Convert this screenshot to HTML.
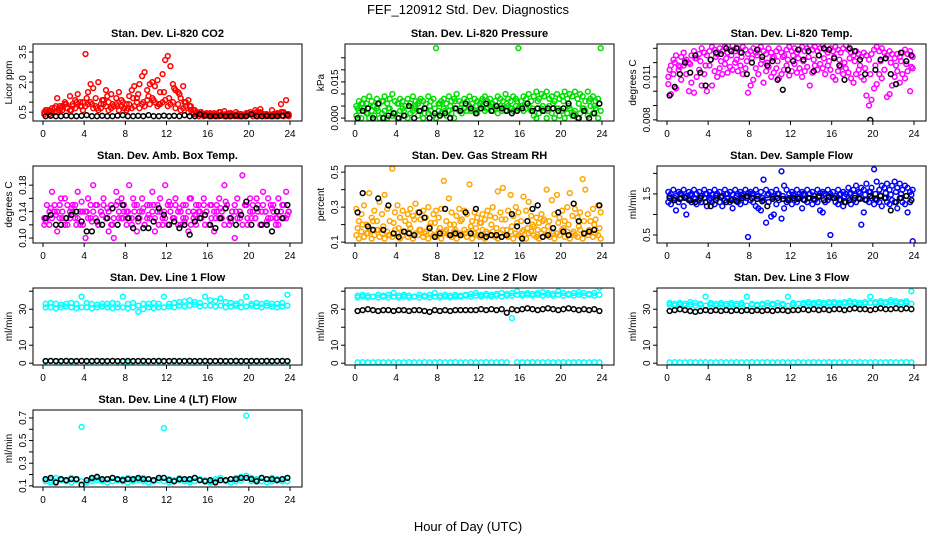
<!DOCTYPE html>
<html><head><meta charset="utf-8"><style>
body{margin:0;background:#fff}
svg text{font-family:"Liberation Sans",Arial,sans-serif}
</style></head><body>
<svg id="c" width="936" height="540" viewBox="0 0 936 540" xmlns="http://www.w3.org/2000/svg">
<text x="468" y="14" text-anchor="middle" font-size="13">FEF_120912  Std. Dev. Diagnostics</text>
<text x="468" y="531" text-anchor="middle" font-size="13">Hour of Day (UTC)</text>
</svg>
<script>
// ---- data ----
const co2A=[0.5,0.6,0.4,0.7,0.5,1.2,0.6,0.8,1.0,0.7,1.3,0.9,1.1,1.4,0.8,1.0,3.4,1.5,1.9,1.7,1.2,2.0,0.9,1.1,1.6,1.0,1.4,0.8,1.2,1.5,1.1,0.7,0.9,1.3,1.6,1.8,1.2,1.9,2.3,2.5,1.6,1.9,2.0,1.8,2.1,1.5,2.4,3.1,3.3,2.8,1.9,1.6,1.5,1.2,1.8,1.0,1.1,0.8,0.6,0.5,0.4,0.5,0.4,0.45,0.4,0.35,0.45,0.4,0.5,0.4,0.55,0.4,0.45,0.4,0.35,0.4,0.4,0.35,0.4,0.45,0.5,0.4,0.6,0.4,0.65,0.4,0.4,0.35,0.35,0.4,0.4,0.4,0.9,0.5,1.1,0.4];
const co2B=[0.4,0.5,0.6,0.5,0.7,0.5,0.8,0.6,0.9,0.7,0.6,0.8,0.7,0.9,1.0,0.6,0.8,0.9,1.0,0.7,0.8,0.6,0.7,0.9,0.8,0.6,0.7,0.8,0.9,0.6,0.8,0.7,0.6,0.9,0.7,0.8,1.0,0.7,0.9,0.8,1.1,0.9,1.2,1.0,0.8,0.9,1.0,1.1,0.8,0.9,1.0,0.7,0.9,0.6,0.7,0.8,0.5,0.6,0.4,0.4,0.3,0.4,0.3,0.35,0.3,0.3,0.35,0.3,0.3,0.35,0.3,0.3,0.3,0.35,0.3,0.3,0.3,0.3,0.3,0.35,0.4,0.3,0.45,0.3,0.5,0.3,0.3,0.3,0.3,0.3,0.35,0.3,0.5,0.3,0.4,0.3];
const co2C=[0.6,0.5,0.8,0.7,0.9,0.6,1.0,0.8,1.2,0.9,0.7,1.1,1.3,0.9,0.8,1.0,0.7,1.2,1.4,1.0,1.3,1.1,0.9,1.5,1.2,1.7,1.4,1.0,0.8,0.6,0.5,0.4,0.45,0.4,0.5,0.4,0.45,0.5,0.4,0.45,0.4,0.5,0.45,0.4,0.6,0.45,0.5,0.4];
const co2K=[0.3,0.32,0.3,0.3,0.33,0.3,0.3,0.32,0.35,0.3,0.3,0.32,0.3,0.3,0.33,0.35,0.3,0.3,0.32,0.3,0.35,0.3,0.3,0.33,0.3,0.32,0.3,0.35,0.3,0.3,0.4,0.33,0.3,0.3,0.32,0.3,0.3,0.33,0.3,0.3,0.4,0.3,0.3,0.32,0.3,0.3,0.33,0.35];
const prsA=[0.005,0.007,0.006,0.008,0.006,0.009,0.007,0.005,0.008,0.006,0.007,0.009,0.006,0.008,0.010,0.007,0.006,0.008,0.007,0.005,0.008,0.006,0.009,0.007,0.006,0.008,0.007,0.006,0.009,0.007,0.008,0.029,0.006,0.007,0.008,0.006,0.009,0.007,0.008,0.010,0.007,0.006,0.008,0.007,0.009,0.006,0.008,0.007,0.006,0.008,0.009,0.007,0.008,0.006,0.007,0.009,0.008,0.007,0.010,0.008,0.007,0.009,0.008,0.029,0.007,0.009,0.008,0.010,0.007,0.009,0.011,0.008,0.010,0.009,0.011,0.008,0.009,0.007,0.010,0.008,0.009,0.011,0.008,0.010,0.009,0.011,0.008,0.010,0.009,0.007,0.011,0.008,0.009,0.007,0.008,0.029];
const prsB=[0.001,0.003,0.000,0.004,0.002,0.000,0.003,0.001,0.004,0.000,0.002,0.003,0.000,0.004,0.001,0.002,0.000,0.003,0.004,0.001,0.000,0.002,0.003,0.005,0.001,0.003,0.000,0.004,0.002,0.003,0.001,0.000,0.003,0.002,0.004,0.001,0.003,0.002,0.000,0.004,0.003,0.002,0.004,0.003,0.005,0.004,0.003,0.002,0.004,0.005,0.003,0.004,0.005,0.003,0.004,0.002,0.005,0.004,0.003,0.005,0.004,0.003,0.005,0.004,0.005,0.003,0.004,0.005,0.003,0.001,0.000,0.002,0.004,0.003,0.000,0.005,0.002,0.000,0.004,0.001,0.003,0.000,0.002,0.004,0.001,0.003,0.000,0.002,0.004,0.003,0.001,0.005,0.002,0.004,0.000,0.003];
const prsC=[0.004,0.006,0.002,0.005,0.003,0.007,0.004,0.002,0.006,0.003,0.005,0.004,0.007,0.002,0.005,0.004,0.006,0.003,0.005,0.007,0.004,0.006,0.003,0.005,0.007,0.004,0.006,0.005,0.003,0.006,0.004,0.007,0.005,0.006,0.004,0.007,0.005,0.003,0.006,0.004,0.007,0.005,0.002,0.006,0.004,0.007,0.005,0.006];
const prsK=[0.000,0.003,0.004,0.000,0.006,0.000,0.001,0.002,0.000,0.001,0.005,0.000,0.003,0.004,0.000,0.002,0.001,0.002,0.000,0.004,0.003,0.006,0.004,0.002,0.004,0.006,0.003,0.005,0.004,0.003,0.002,0.003,0.004,0.006,0.003,0.004,0.003,0.004,0.004,0.003,0.004,0.006,0.001,0.000,0.003,0.000,0.002,0.006];
const tmpA=[0.0110,0.0118,0.0122,0.0125,0.0118,0.0124,0.0127,0.0122,0.0120,0.0125,0.0128,0.0123,0.0126,0.0130,0.0127,0.0125,0.0128,0.0131,0.0129,0.0126,0.0130,0.0128,0.0131,0.0127,0.0129,0.0132,0.0128,0.0130,0.0127,0.0131,0.0129,0.0126,0.0128,0.0130,0.0127,0.0129,0.0131,0.0128,0.0126,0.0130,0.0127,0.0124,0.0128,0.0130,0.0127,0.0125,0.0129,0.0131,0.0128,0.0130,0.0127,0.0129,0.0131,0.0128,0.0130,0.0132,0.0129,0.0131,0.0128,0.0130,0.0132,0.0129,0.0127,0.0130,0.0128,0.0131,0.0129,0.0127,0.0130,0.0132,0.0129,0.0127,0.0125,0.0128,0.0126,0.0124,0.0127,0.0125,0.0122,0.0126,0.0129,0.0131,0.0128,0.0130,0.0127,0.0125,0.0128,0.0126,0.0123,0.0126,0.0124,0.0127,0.0129,0.0126,0.0128,0.0124];
const tmpB=[0.0105,0.0098,0.0112,0.0102,0.0115,0.0108,0.0118,0.0112,0.0100,0.0106,0.0099,0.0110,0.0115,0.0104,0.0112,0.0100,0.0118,0.0104,0.0114,0.0110,0.0116,0.0112,0.0119,0.0113,0.0117,0.0115,0.0120,0.0114,0.0118,0.0112,0.0116,0.0099,0.0104,0.0108,0.0116,0.0112,0.0119,0.0106,0.0114,0.0117,0.0110,0.0113,0.0116,0.0109,0.0112,0.0115,0.0118,0.0111,0.0114,0.0119,0.0113,0.0116,0.0110,0.0114,0.0117,0.0104,0.0113,0.0118,0.0115,0.0119,0.0116,0.0112,0.0118,0.0115,0.0110,0.0108,0.0114,0.0117,0.0112,0.0116,0.0113,0.0109,0.0106,0.0112,0.0115,0.0110,0.0108,0.0097,0.0090,0.0094,0.0102,0.0105,0.0112,0.0109,0.0115,0.0096,0.0098,0.0104,0.0110,0.0114,0.0106,0.0112,0.0109,0.0114,0.0100,0.0116];
const tmpC=[0.0115,0.0120,0.0117,0.0121,0.0119,0.0123,0.0121,0.0118,0.0122,0.0124,0.0121,0.0123,0.0125,0.0122,0.0124,0.0121,0.0123,0.0125,0.0122,0.0120,0.0123,0.0121,0.0124,0.0122,0.0125,0.0123,0.0121,0.0124,0.0122,0.0125,0.0123,0.0121,0.0124,0.0122,0.0120,0.0123,0.0121,0.0118,0.0116,0.0112,0.0118,0.0121,0.0123,0.0120,0.0118,0.0121,0.0119,0.0117];
const tmpK=[0.0097,0.0103,0.0112,0.0120,0.0113,0.0125,0.0113,0.0104,0.0122,0.0127,0.0126,0.0130,0.0128,0.0130,0.0127,0.0112,0.0120,0.0129,0.0124,0.0118,0.0121,0.0108,0.0101,0.0115,0.0121,0.0129,0.0122,0.0128,0.0114,0.0125,0.0130,0.0129,0.0123,0.0118,0.0108,0.0130,0.0128,0.0122,0.0112,0.0080,0.0115,0.0122,0.0123,0.0112,0.0105,0.0127,0.0121,0.0125];
const ambA=[0.13,0.15,0.12,0.17,0.14,0.11,0.15,0.13,0.16,0.12,0.14,0.15,0.13,0.17,0.12,0.14,0.10,0.16,0.13,0.18,0.15,0.12,0.14,0.16,0.13,0.11,0.15,0.10,0.17,0.13,0.16,0.14,0.12,0.18,0.13,0.15,0.11,0.14,0.16,0.12,0.15,0.13,0.17,0.11,0.14,0.16,0.13,0.18,0.12,0.15,0.13,0.16,0.14,0.12,0.15,0.13,0.11,0.16,0.14,0.12,0.15,0.13,0.16,0.14,0.12,0.15,0.11,0.14,0.16,0.13,0.18,0.15,0.12,0.14,0.10,0.16,0.13,0.195,0.15,0.12,0.16,0.14,0.13,0.15,0.12,0.17,0.14,0.16,0.13,0.15,0.12,0.16,0.14,0.13,0.17,0.14];
const ambB=[0.12,0.13,0.14,0.13,0.15,0.14,0.13,0.14,0.12,0.15,0.13,0.14,0.15,0.13,0.14,0.12,0.14,0.13,0.15,0.14,0.13,0.12,0.14,0.15,0.13,0.14,0.12,0.13,0.15,0.14,0.13,0.15,0.14,0.13,0.12,0.14,0.15,0.13,0.14,0.12,0.13,0.15,0.14,0.13,0.15,0.14,0.12,0.13,0.15,0.14,0.13,0.15,0.12,0.14,0.13,0.15,0.14,0.12,0.13,0.15,0.14,0.13,0.15,0.14,0.12,0.13,0.14,0.15,0.13,0.14,0.12,0.15,0.13,0.14,0.15,0.13,0.14,0.12,0.15,0.13,0.14,0.15,0.13,0.14,0.12,0.15,0.14,0.13,0.15,0.14,0.13,0.12,0.14,0.15,0.13,0.14];
const ambC=[0.125,0.145,0.135,0.16,0.13,0.145,0.12,0.155,0.14,0.125,0.15,0.135,0.145,0.12,0.155,0.13,0.14,0.16,0.125,0.145,0.135,0.15,0.12,0.14,0.155,0.13,0.145,0.125,0.16,0.135,0.14,0.12,0.15,0.13,0.145,0.155,0.125,0.14,0.135,0.15,0.13,0.16,0.14,0.125,0.145,0.13,0.15,0.135];
const ambK=[0.13,0.135,0.12,0.12,0.13,0.135,0.14,0.125,0.11,0.11,0.125,0.12,0.13,0.145,0.12,0.15,0.13,0.115,0.13,0.115,0.115,0.125,0.145,0.135,0.12,0.125,0.115,0.12,0.105,0.125,0.13,0.135,0.12,0.115,0.13,0.145,0.13,0.12,0.135,0.155,0.12,0.145,0.12,0.12,0.11,0.14,0.13,0.15];
const rhA=[0.14,0.12,0.16,0.13,0.15,0.18,0.12,0.14,0.17,0.13,0.15,0.12,0.16,0.14,0.13,0.17,0.15,0.12,0.14,0.16,0.13,0.18,0.12,0.15,0.14,0.17,0.13,0.16,0.12,0.15,0.14,0.13,0.16,0.12,0.15,0.17,0.14,0.13,0.16,0.12,0.15,0.14,0.17,0.13,0.16,0.12,0.15,0.14,0.13,0.17,0.12,0.15,0.14,0.16,0.13,0.12,0.15,0.17,0.14,0.13,0.16,0.12,0.15,0.14,0.13,0.17,0.12,0.15,0.16,0.14,0.13,0.12,0.15,0.17,0.14,0.13,0.16,0.12,0.15,0.14,0.17,0.13,0.16,0.12,0.15,0.14,0.13,0.17,0.12,0.15,0.14,0.16,0.13,0.15,0.14,0.12];
const rhB=[0.29,0.22,0.26,0.31,0.20,0.38,0.24,0.28,0.22,0.33,0.26,0.37,0.29,0.22,0.52,0.27,0.31,0.24,0.28,0.22,0.26,0.29,0.25,0.32,0.27,0.23,0.28,0.24,0.30,0.21,0.26,0.28,0.24,0.29,0.45,0.22,0.35,0.27,0.20,0.25,0.29,0.23,0.28,0.26,0.43,0.22,0.27,0.24,0.21,0.26,0.23,0.28,0.25,0.30,0.24,0.39,0.27,0.41,0.23,0.28,0.37,0.25,0.30,0.27,0.22,0.36,0.28,0.33,0.25,0.19,0.24,0.21,0.26,0.23,0.40,0.22,0.34,0.26,0.37,0.24,0.28,0.22,0.30,0.38,0.25,0.29,0.24,0.27,0.46,0.40,0.26,0.22,0.29,0.23,0.31,0.27];
const rhC=[0.18,0.2,0.15,0.22,0.17,0.19,0.14,0.21,0.18,0.16,0.2,0.23,0.17,0.15,0.19,0.21,0.18,0.16,0.2,0.17,0.22,0.15,0.19,0.18,0.21,0.16,0.2,0.18,0.23,0.17,0.19,0.21,0.16,0.18,0.2,0.17,0.22,0.19,0.15,0.21,0.18,0.2,0.16,0.19,0.22,0.17,0.2,0.18];
const rhK=[0.27,0.38,0.19,0.17,0.35,0.17,0.31,0.15,0.13,0.16,0.15,0.14,0.27,0.24,0.18,0.13,0.15,0.29,0.14,0.15,0.14,0.27,0.15,0.29,0.14,0.13,0.14,0.14,0.13,0.14,0.26,0.19,0.12,0.22,0.29,0.31,0.13,0.14,0.18,0.27,0.16,0.14,0.32,0.22,0.15,0.16,0.17,0.31];
const sfA=[1.55,1.5,1.6,1.45,1.55,1.5,1.6,1.45,1.55,1.5,1.6,1.5,1.55,1.45,1.6,1.5,1.55,1.48,1.6,1.5,1.55,1.45,1.6,1.5,1.55,1.48,1.6,1.5,1.55,1.45,1.6,1.52,1.55,1.5,1.6,1.45,1.55,1.85,1.6,1.5,1.55,1.45,1.6,1.5,2.05,1.7,1.6,1.5,1.55,1.45,1.6,1.5,1.55,1.48,1.6,1.5,1.55,1.45,1.6,1.52,1.55,1.5,1.6,1.5,1.55,1.45,1.6,1.5,1.55,1.5,1.65,1.52,1.6,1.7,1.55,1.65,1.6,1.75,1.55,1.65,2.1,1.8,1.6,1.7,1.65,1.75,1.6,1.7,1.8,1.65,1.75,1.6,1.7,1.65,1.55,1.6];
const sfB=[1.3,1.25,1.35,1.1,1.3,1.4,1.2,1.0,1.35,1.3,1.4,1.25,1.35,1.3,1.4,1.2,1.35,1.3,1.25,1.4,1.3,1.2,1.35,1.4,1.3,1.15,1.35,1.3,1.25,1.4,1.3,0.45,1.35,1.3,1.2,1.15,1.1,1.35,0.8,1.3,0.95,1.0,1.25,1.35,0.9,1.15,1.3,1.4,1.25,1.35,1.3,1.4,1.15,1.35,1.3,1.4,1.25,1.35,1.3,1.1,1.05,1.3,1.35,0.5,1.4,1.3,1.25,1.35,1.2,1.3,1.4,1.25,1.35,1.3,1.4,0.75,1.05,1.35,1.3,1.4,1.25,1.35,1.3,1.2,1.4,1.3,1.25,1.35,1.3,1.15,1.4,1.3,1.25,1.05,1.3,0.35];
const sfC=[1.45,1.4,1.5,1.42,1.48,1.38,1.45,1.5,1.4,1.46,1.42,1.5,1.38,1.45,1.48,1.4,1.5,1.44,1.4,1.47,1.42,1.5,1.45,1.38,1.48,1.43,1.5,1.4,1.46,1.42,1.5,1.45,1.4,1.48,1.44,1.5,1.46,1.52,1.48,1.55,1.5,1.46,1.52,1.48,1.55,1.5,1.45,1.48];
const sfK=[1.4,1.35,1.38,1.4,1.35,1.3,1.4,1.3,1.2,1.35,1.42,1.3,1.35,1.32,1.4,1.45,1.4,1.38,1.32,1.2,1.38,1.4,1.38,1.35,1.4,1.38,1.36,1.4,1.38,1.45,1.35,1.42,1.4,1.36,1.3,1.35,1.4,1.38,1.36,1.45,1.38,1.45,1.4,1.1,1.3,1.4,1.45,1.35];
const l1A=[33,33.5,33,32.5,33,33.5,33,37,33.5,33,32.5,33,33,33.5,33,37,33,33.5,32,33,33,33.5,33,37,33,33.5,34,34.5,35,34,33.5,37,35,34.5,36,34,33.5,33,34,37,33,33.5,33,33.5,33,33,33.5,38];
const l1B=[31,31,30.5,31,31.5,31,30.5,31,31,30.5,31,31.5,31,30.5,31,31,30.5,31,28.5,30,31,30.5,31,31,31.5,31,32,31.5,32,32.5,31.5,32,32,31.5,32,31,31.5,32,31,31.5,32,31.5,31,32,31.5,31,31.5,32];
const l1C=[1,1.2,1,1,1.1,1,1,1.2,1,1,1.1,1,1,1.2,1,1,0.6,1,1.1,1,1,1.2,1,1,1.1,1,1,1.2,1,1,1.1,1,1,1.2,1,1,1.1,1,1,1.2,1,1,1.1,1,1,1.2,1,1];
const l1K=[1.2,1.3,1.2,1.2,1.3,1.2,1.2,1.3,1.2,1.2,1.3,1.2,1.2,1.3,1.2,1.2,1.3,1.2,1.2,1.3,1.2,1.2,1.3,1.2,1.2,1.3,1.2,1.2,1.3,1.2,1.2,1.3,1.2,1.2,1.3,1.2,1.2,1.3,1.2,1.2,1.3,1.2,1.2,1.3,1.2,1.2,1.3,1.2];
const l2A=[37.5,38,37.5,37,38,37.5,38,39,37.5,38,37.5,37,38,37.5,38,39,37.5,38,37.5,38,37.5,38,38.5,39,38,38.5,38,38.5,39,38.5,39,40,38.5,39,38.5,39,39.5,39,38.5,40,39,38.5,39,39.5,39,38.5,39,42];
const l2C=[36.5,37,36.5,37,36.5,37,36.5,37,36.5,37,36.5,37,36.5,37,36.5,37,36.5,37,36.5,37,37,37.5,37,37.5,37,37.5,37,37.5,37,37.5,37.5,38,37.5,38,37.5,38,37.5,38,37.5,38,37.5,38,37.5,38,37.5,38,37.5,38];
const l2B=[0.5,0.6,0.5,0.5,0.6,0.5,0.5,0.6,0.5,0.5,0.6,0.5,0.5,0.6,0.5,0.5,0.6,0.5,0.5,0.6,0.5,0.5,0.6,0.5,0.5,0.6,0.5,0.5,0.6,0.5,25,0.6,0.5,0.5,0.6,0.5,0.5,0.6,0.5,0.5,0.6,0.5,0.5,0.6,0.5,0.5,0.6,0.5];
const l2K=[29,29.5,30,29.5,29,29.5,29.5,29,29.5,29.5,29,29.5,29.5,29,28.5,29.5,29,29.5,29,29.5,29.5,29.5,29.5,29.5,30,29.5,30,29.5,30,28,30,29.5,30,30.5,30,29.5,30,30.5,30,29.5,30,30.5,30,29.5,30,29.5,30,29];
const l3A=[33.5,33,33.5,33,34,33.5,33,37,33.5,33,33.5,33,33.5,33,33.5,37,33,32.5,33,33.5,33,33.5,33,37,33.5,33,33.5,34,33.5,34,33.5,34,34,33.5,34,34.5,34,33.5,34,37,34,34.5,34,35,34.5,34,34.5,40];
const l3C=[32.5,32,32.5,32,32.5,32,32.5,32,32.5,32,32.5,32,32.5,32,32.5,32,32.5,32,32.5,32,32.5,32,32.5,32,32.5,33,32.5,33,32.5,33,32.5,33,33,32.5,33,33.5,33,32.5,33,33.5,33,33.5,33,34,33.5,33,33.5,33];
const l3B=[0.5,0.6,0.5,0.5,0.6,0.5,0.5,0.6,0.5,0.5,0.6,0.5,0.5,0.6,0.5,0.5,0.6,0.5,0.5,0.6,0.5,0.5,0.6,0.5,0.5,0.6,0.5,0.5,0.6,0.5,0.5,0.6,0.5,0.5,0.6,0.5,0.5,0.6,0.5,0.5,0.6,0.5,0.5,0.6,0.5,0.5,0.6,0.5];
const l3K=[29,29.5,30,29.5,29,28.5,29,29.5,29,29.5,29,29.5,29,29.5,29,29.5,29,29.5,29,29.5,29,29.5,29.5,29,29.5,29.5,30,29.5,30,29.5,30,29.5,30,30,29.5,30,30.5,30,30,29.5,30,30.5,30,30,30.5,30,30.5,30];
const l4A=[0.16,0.15,0.17,0.16,0.15,0.17,0.16,0.62,0.15,0.16,0.17,0.15,0.16,0.17,0.15,0.16,0.17,0.15,0.16,0.17,0.16,0.15,0.17,0.61,0.16,0.15,0.17,0.16,0.15,0.17,0.16,0.15,0.14,0.16,0.17,0.15,0.16,0.17,0.18,0.72,0.17,0.16,0.17,0.16,0.17,0.16,0.16,0.17];
const l4B=[0.14,0.13,0.14,0.15,0.14,0.13,0.15,0.14,0.13,0.14,0.15,0.14,0.13,0.14,0.15,0.14,0.13,0.14,0.15,0.14,0.13,0.14,0.15,0.14,0.13,0.14,0.15,0.14,0.13,0.14,0.15,0.14,0.13,0.14,0.15,0.14,0.13,0.14,0.15,0.19,0.14,0.15,0.14,0.13,0.14,0.15,0.14,0.14];
const l4K=[0.16,0.17,0.13,0.16,0.15,0.16,0.16,0.11,0.15,0.17,0.18,0.16,0.16,0.17,0.16,0.15,0.16,0.16,0.17,0.16,0.16,0.15,0.17,0.17,0.15,0.14,0.16,0.16,0.16,0.17,0.15,0.14,0.15,0.13,0.15,0.15,0.16,0.16,0.17,0.17,0.16,0.14,0.17,0.16,0.16,0.15,0.16,0.17];
const hourTicks=[0,4,8,12,16,20,24];

const panels=[
 {t:"Stan. Dev. Li-820 CO2",yl:"Licor ppm",c:0,r:0,lo:0.06,hi:3.9,ticks:[0.5,1,1.5,2,2.5,3,3.5],labs:["0.5","","","2.0","","","3.5"],s:[[co2A,"#ff0000"],[co2B,"#ff0000"],[co2C,"#ff0000"],[co2K,"#000"]]},
 {t:"Stan. Dev. Li-820 Pressure",yl:"kPa",c:1,r:0,lo:-0.0012,hi:0.0307,ticks:[0,0.005,0.01,0.015,0.02,0.025],labs:["0.000","","","0.015","",""],s:[[prsA,"#00dd00"],[prsB,"#00dd00"],[prsC,"#00dd00"],[prsK,"#000"]]},
 {t:"Stan. Dev. Li-820 Temp.",yl:"degrees C",c:2,r:0,lo:0.00792,hi:0.0133,ticks:[0.008,0.009,0.010,0.011,0.012,0.013],labs:["0.008","","","0.011","",""],s:[[tmpA,"#ff00ff"],[tmpB,"#ff00ff"],[tmpC,"#ff00ff"],[tmpK,"#000"]]},
 {t:"Stan. Dev. Amb. Box Temp.",yl:"degrees C",c:0,r:1,lo:0.0925,hi:0.209,ticks:[0.10,0.12,0.14,0.16,0.18],labs:["0.10","","0.14","","0.18"],s:[[ambA,"#ff00ff"],[ambB,"#ff00ff"],[ambC,"#ff00ff"],[ambK,"#000"]]},
 {t:"Stan. Dev. Gas Stream RH",yl:"percent",c:1,r:1,lo:0.095,hi:0.535,ticks:[0.1,0.2,0.3,0.4,0.5],labs:["0.1","","0.3","","0.5"],s:[[rhA,"#ffa500"],[rhB,"#ffa500"],[rhC,"#ffa500"],[rhK,"#000"]]},
 {t:"Stan. Dev. Sample Flow",yl:"ml/min",c:2,r:1,lo:0.305,hi:2.18,ticks:[0.5,1,1.5,2],labs:["0.5","","1.5",""],s:[[sfA,"#0000ff"],[sfB,"#0000ff"],[sfC,"#0000ff"],[sfK,"#000"]]},
 {t:"Stan. Dev. Line 1 Flow",yl:"ml/min",c:0,r:2,lo:-1,hi:41.8,ticks:[0,10,20,30,40],labs:["0","10","","30",""],s:[[l1A,"#00ffff"],[l1B,"#00ffff"],[l1C,"#00ffff"],[l1K,"#000"]]},
 {t:"Stan. Dev. Line 2 Flow",yl:"ml/min",c:1,r:2,lo:-1,hi:41.8,ticks:[0,10,20,30,40],labs:["0","10","","30",""],s:[[l2A,"#00ffff"],[l2C,"#00ffff"],[l2B,"#00ffff"],[l2K,"#000"]]},
 {t:"Stan. Dev. Line 3 Flow",yl:"ml/min",c:2,r:2,lo:-1,hi:41.8,ticks:[0,10,20,30,40],labs:["0","10","","30",""],s:[[l3A,"#00ffff"],[l3C,"#00ffff"],[l3B,"#00ffff"],[l3K,"#000"]]},
 {t:"Stan. Dev. Line 4 (LT) Flow",yl:"ml/min",c:0,r:3,lo:0.09,hi:0.77,ticks:[0.1,0.2,0.3,0.4,0.5,0.6,0.7],labs:["0.1","","0.3","","0.5","","0.7"],s:[[l4A,"#00ffff"],[l4B,"#00ffff"],[l4K,"#000"]]}
];
const NS="http://www.w3.org/2000/svg";
const svg=document.getElementById('c');
function mk(tag,at,parent){const e=document.createElementNS(NS,tag);for(const k in at)e.setAttribute(k,at[k]);(parent||svg).appendChild(e);return e;}
const W=269,H=77;
panels.forEach((p,pi)=>{
 const L=33+p.c*312,T=44+p.r*122,B=T+H;
 const g=mk('g',{});
 
 
 const xs=h=>L+10+h*247/24;
 const ys=v=>B-(v-p.lo)/(p.hi-p.lo)*H;
 const tt=mk('text',{x:L+W/2,y:T-7,'text-anchor':'middle','font-size':'11','font-weight':'bold'},g);tt.textContent=p.t;
 
 
 const yt=mk('text',{transform:`translate(${L-21},${T+H/2}) rotate(-90)`,'text-anchor':'middle','font-size':'10'},g);yt.textContent=p.yl;
 
 
 const cp=mk('clipPath',{id:'cp'+pi},g);mk('rect',{x:L,y:T,width:W,height:H},cp);
 const pts=mk('g',{'clip-path':`url(#cp${pi})`,fill:'none','stroke-width':'1.5'},g);
 
 
 p.s.forEach(([arr,col])=>{
  arr.forEach((v,i)=>{
   const h=(i+0.5)*24/arr.length;
   const c=mk('circle',{cx:xs(h).toFixed(1),cy:ys(v).toFixed(1),r:2.4,stroke:col},pts);
   
   
  });
 });
 const bx=mk('rect',{x:L,y:T,width:W,height:H,fill:'none',stroke:'#000','stroke-width':'1'},g);
 
 
 mk('line',{x1:xs(0),x2:xs(24),y1:B,y2:B,stroke:'#000'},g);
 hourTicks.forEach(h=>{
  mk('line',{x1:xs(h),x2:xs(h),y1:B,y2:B+4,stroke:'#000'},g);
  const tx=mk('text',{x:xs(h),y:B+16,'text-anchor':'middle','font-size':'10'},g);tx.textContent=h;
  
  
 });
 mk('line',{x1:L,x2:L,y1:ys(p.ticks[0]),y2:ys(p.ticks[p.ticks.length-1]),stroke:'#000'},g);
 p.ticks.forEach((v,i)=>{
  mk('line',{x1:L-4,x2:L,y1:ys(v),y2:ys(v),stroke:'#000'},g);
  if(p.labs[i]){const t=mk('text',{transform:`translate(${L-7},${ys(v)}) rotate(-90)`,'text-anchor':'middle','font-size':'10'},g);t.textContent=p.labs[i];
   
   }
 });
});
</script>
</body></html>
